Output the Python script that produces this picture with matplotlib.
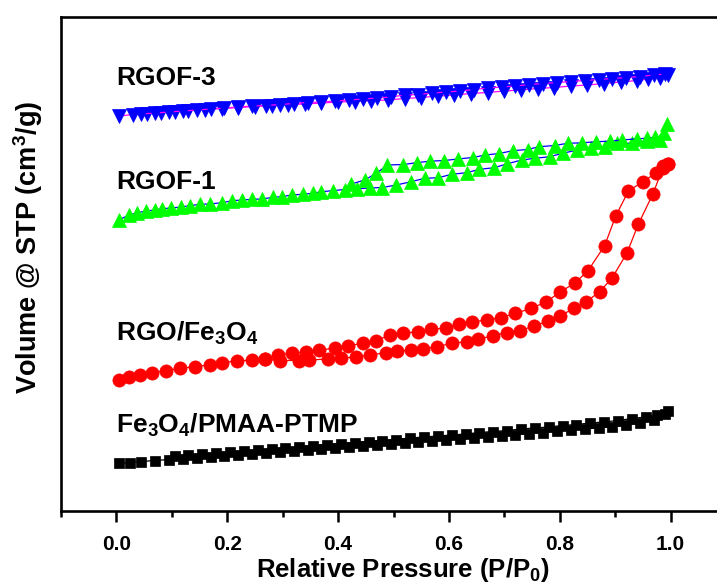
import numpy as np
import matplotlib
matplotlib.use('Agg')
import matplotlib.pyplot as plt

plt.rcParams['font.family'] = ['Liberation Sans', 'DejaVu Sans']
plt.rcParams['font.weight'] = 'bold'
plt.rcParams['mathtext.fontset'] = 'custom'
plt.rcParams['mathtext.rm'] = 'Liberation Sans:bold'
plt.rcParams['mathtext.it'] = 'Liberation Sans:bold'
plt.rcParams['mathtext.bf'] = 'Liberation Sans:bold'

# RGOF-3 (blue, down triangles)
rgof3_ads_x = [0.005, 0.03, 0.055, 0.08, 0.105, 0.13, 0.16, 0.19, 0.22, 0.25, 0.28, 0.31, 0.34, 0.37,
               0.40, 0.43, 0.46, 0.49, 0.52, 0.55, 0.58, 0.61, 0.64, 0.67, 0.70, 0.73, 0.76, 0.79,
               0.82, 0.85, 0.88, 0.91, 0.94, 0.96, 0.98, 0.995]
rgof3_ads_y = [395, 396.5, 397.5, 398.5, 399.5, 400.5, 401.5, 402.5, 403.5, 404.5, 405.5, 406.5, 407, 408,
               409, 409.5, 410.5, 411, 412.5, 413.5, 415, 416, 417.5, 418.5, 420, 421, 422.5, 423.5,
               425, 426, 427.5, 429, 430.5, 432, 433.5, 436]
rgof3_des_x = [0.99, 0.97, 0.945, 0.92, 0.895, 0.87, 0.845, 0.82, 0.795, 0.77, 0.745, 0.72, 0.695, 0.67,
               0.645, 0.62, 0.595, 0.57, 0.545, 0.52, 0.495, 0.47, 0.445, 0.42, 0.395, 0.37, 0.345,
               0.32, 0.295, 0.27, 0.245, 0.22, 0.195, 0.17, 0.145, 0.12, 0.095, 0.07, 0.045]
rgof3_des_y = [437, 436, 434.5, 433.5, 432.5, 431.5, 430.5, 429.5, 428.5, 427.5, 426.5, 425, 424, 423,
               421.5, 420, 419, 418, 416.5, 416, 414, 413, 412, 411, 410, 409, 408.5,
               407.5, 406.5, 405.5, 405, 404, 403, 402, 401, 400, 399, 398, 397]

# RGOF-1 (green, up triangles)
rgof1_ads_x = [0.004, 0.023, 0.038, 0.054, 0.069, 0.083, 0.099, 0.117, 0.132, 0.150, 0.168, 0.191, 0.209,
               0.227, 0.245, 0.263, 0.282, 0.298, 0.316, 0.336, 0.354, 0.370, 0.390, 0.412, 0.435,
               0.457, 0.480, 0.505, 0.532, 0.556, 0.581, 0.605, 0.632, 0.655, 0.682, 0.704, 0.731,
               0.755, 0.782, 0.805, 0.832, 0.857, 0.881, 0.904, 0.931, 0.957, 0.980, 0.989, 0.993]
rgof1_ads_y = [291, 296, 298.3, 300, 301, 302.3, 303, 304, 305.3, 306.7, 307, 308.3, 310.3,
               311, 311.7, 312, 313.7, 314.3, 316, 316.7, 317.7, 319.3, 320.3, 321.5, 322.3,
               323, 323.5, 326, 329.3, 332.7, 333.3, 336.7, 338.3, 341.7, 343.3, 347, 351,
               352.7, 354.3, 357.7, 361, 362.7, 364.3, 367.7, 367.7, 370.3, 371, 378.3, 387]
rgof1_des_x = [0.971, 0.957, 0.939, 0.913, 0.890, 0.866, 0.841, 0.814, 0.791, 0.763, 0.742, 0.715,
               0.691, 0.666, 0.643, 0.616, 0.592, 0.565, 0.542, 0.518, 0.489, 0.469, 0.448, 0.424]
rgof1_des_y = [373.7, 372.7, 372.2, 371, 369.8, 369.3, 368.2, 367.7, 365.5, 364.3, 361.5, 360.3,
               357.5, 356, 353.5, 352, 350.5, 349.8, 348.3, 346.5, 346, 337.7, 331, 327]

# RGO/Fe3O4 (red circles)
rgo_ads_x = [0.005, 0.023, 0.042, 0.065, 0.090, 0.114, 0.141, 0.168, 0.191, 0.217, 0.244, 0.269,
             0.296, 0.330, 0.348, 0.381, 0.406, 0.433, 0.457, 0.487, 0.507, 0.532, 0.554, 0.579,
             0.605, 0.632, 0.653, 0.679, 0.704, 0.729, 0.753, 0.778, 0.801, 0.825, 0.848, 0.872,
             0.894, 0.921, 0.942, 0.968, 0.986, 0.995]
rgo_ads_y = [131, 133.7, 136.3, 138.3, 140.3, 142.7, 144.3, 146, 148.3, 150, 151, 151.7,
             150.5, 150.5, 151, 152, 153, 154, 156, 158.3, 160, 161, 162.3, 164.3,
             167.7, 169.3, 172, 175, 178.3, 180.3, 185, 189.7, 195, 202.7, 209.3, 219.3,
             232.7, 257.7, 287, 317, 343, 347]
rgo_des_x = [0.995, 0.986, 0.973, 0.950, 0.924, 0.901, 0.881, 0.851, 0.828, 0.800, 0.776, 0.749,
             0.720, 0.694, 0.668, 0.641, 0.618, 0.594, 0.567, 0.544, 0.517, 0.493, 0.469, 0.445,
             0.417, 0.394, 0.366, 0.342, 0.317, 0.291, 0.269]
rgo_des_y = [347, 345, 337.7, 329.3, 320, 295, 265.3, 240.3, 228.3, 218.7, 209.3, 202.7,
             197.7, 193.3, 191, 189, 187, 183, 181.7, 179, 178.3, 176, 170.3, 167.7,
             165, 162.7, 161, 159.3, 157.7, 156, 151.7]

# Fe3O4/PMAA-PTMP (black squares)
pmaa_ads_x = [0.005, 0.025, 0.045, 0.07, 0.095, 0.12, 0.145, 0.17, 0.195, 0.22, 0.245, 0.27, 0.295,
              0.32, 0.345, 0.37, 0.395, 0.42, 0.445, 0.47, 0.495, 0.52, 0.545, 0.57, 0.595, 0.62,
              0.645, 0.67, 0.695, 0.72, 0.745, 0.77, 0.795, 0.82, 0.845, 0.87, 0.895, 0.92, 0.945,
              0.97, 0.99]
pmaa_ads_y = [48, 48.5, 49.5, 50.5, 51.5, 52, 53.5, 54.5, 55, 56.5, 57.5, 58, 59.5,
              60.5, 61, 62.5, 63.5, 64, 65.5, 66.5, 67.5, 68, 69.5, 70.5, 71, 72.5,
              73.5, 74.5, 75, 76.5, 77.5, 78.5, 80, 81, 82, 83, 84.5, 86, 88,
              91, 97]
pmaa_des_x = [0.995, 0.975, 0.955, 0.93, 0.905, 0.88, 0.855, 0.83, 0.805, 0.78, 0.755, 0.73, 0.705,
              0.68, 0.655, 0.63, 0.605, 0.58, 0.555, 0.53, 0.505, 0.48, 0.455, 0.43, 0.405, 0.38,
              0.355, 0.33, 0.305, 0.28, 0.255, 0.23, 0.205, 0.18, 0.155, 0.13, 0.105]
pmaa_des_y = [100, 96, 94, 92.5, 90.5, 89, 88, 86.5, 85.5, 84, 83, 82, 80.5,
              79.5, 78.5, 77, 76, 75, 74, 73, 71.5, 70.5, 69.5, 68.5, 67.5, 66.5,
              65.5, 64, 63, 62, 61, 60, 59, 58, 57, 56, 55]

fig = plt.figure(figsize=(7.17, 5.88), dpi=100)
ax = fig.add_axes([61 / 717, 77 / 588, 665 / 717, 494 / 588])

series = [
    (pmaa_ads_x, pmaa_ads_y, pmaa_des_x, pmaa_des_y, 's', 'black', 'black', 7.5),
    (rgo_ads_x, rgo_ads_y, rgo_des_x, rgo_des_y, 'o', 'red', 'red', 9.5),
    (rgof1_ads_x, rgof1_ads_y, rgof1_des_x, rgof1_des_y, '^', '#00ff00', 'blue', 10),
    (rgof3_ads_x, rgof3_ads_y, rgof3_des_x, rgof3_des_y, 'v', 'blue', 'magenta', 10),
]
for ax_x, ax_y, de_x, de_y, m, mc, lc, ms in series:
    ax.plot(ax_x, ax_y, '-', color=lc, lw=0.9, marker=m, ms=ms,
            markerfacecolor=mc, markeredgecolor=mc, markeredgewidth=0.5)
    ax.plot(de_x, de_y, '-', color=lc, lw=0.9, marker=m, ms=ms,
            markerfacecolor=mc, markeredgecolor=mc, markeredgewidth=0.5)

ax.set_xlim(-0.1, 1.1)
ax.set_ylim(0, 494)
ax.set_xticks([0.0, 0.2, 0.4, 0.6, 0.8, 1.0])
ax.set_xticklabels(['0.0', '0.2', '0.4', '0.6', '0.8', '1.0'])
ax.set_xticks([-0.1, 0.1, 0.3, 0.5, 0.7, 0.9], minor=True)
ax.set_yticks([])
ax.tick_params(axis='x', which='major', direction='out', length=8, width=1.8,
               labelsize=15, pad=9)
ax.tick_params(axis='x', which='minor', direction='out', length=4.5, width=1.8)
for lab in ax.get_xticklabels():
    lab.set_fontweight('bold')
for s in ax.spines.values():
    s.set_linewidth(1.9)

txt = dict(fontsize=19, fontweight='bold', ha='left', va='center')
ax.text(0.0, 433, 'RGOF-3', **txt)
ax.text(0.0, 329, 'RGOF-1', **txt)
ax.text(0.0, 178, 'RGO/Fe$_3$O$_4$', **txt)
ax.text(0.0, 86, 'Fe$_3$O$_4$/PMAA-PTMP', **txt)

fig.text(403 / 717, 1 - 570 / 588, 'Relative Pressure (P/P$_0$)', fontsize=18.5,
         fontweight='bold', ha='center', va='center')
fig.text(28 / 717, 1 - 247 / 588, 'Volume @ STP (cm$^3$/g)', fontsize=19.5,
         fontweight='bold', ha='center', va='center', rotation=90)

fig.savefig('out.png', dpi=100)
